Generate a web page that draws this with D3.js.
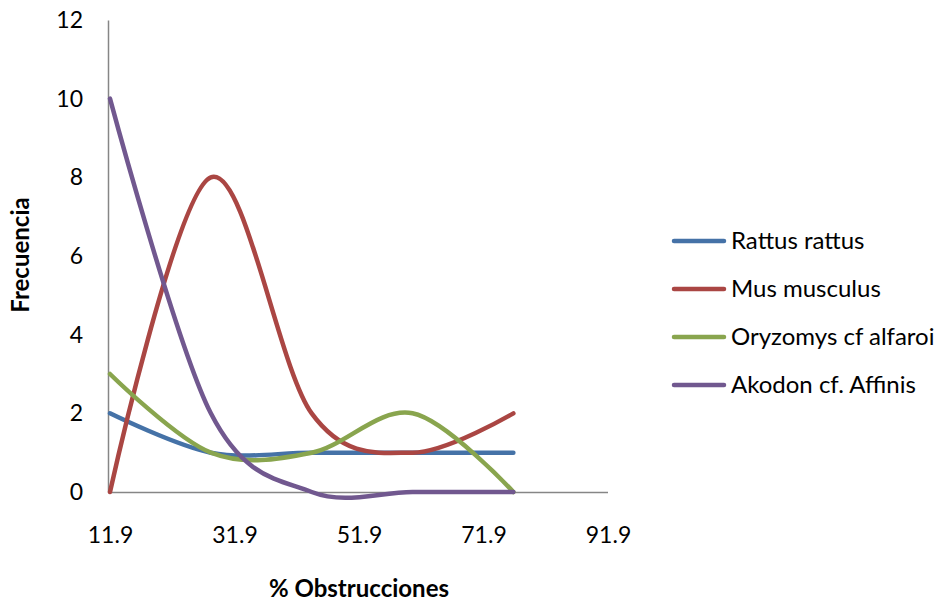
<!DOCTYPE html>
<html>
<head>
<meta charset="utf-8">
<script src="https://cdn.jsdelivr.net/npm/d3@7"></script>
<style>
  html, body { margin: 0; padding: 0; background: #fff; }
  svg text { font-family: Lato, "Open Sans", sans-serif; fill: #000; }
</style>
</head>
<body>
<svg id="chart" width="943" height="603"></svg>
<script>
// Class starts of % obstructions (bin width 16.2)
const binStarts = [11.9, 28.1, 44.3, 60.5, 76.7];
const seriesNames = ["Rattus rattus", "Mus musculus", "Oryzomys cf alfaroi", "Akodon cf. Affinis"];
const rattus = [2, 1, 1, 1, 1];
const mus = [0, 8, 2, 1, 2];
const oryzomys = [3, 1, 1, 2, 0];
const akodon = [10, 2, 0, 0, 0];
const colors = ["#4572A7", "#AA4643", "#89A54E", "#71588F"];
const xTicks = [11.9, 31.9, 51.9, 71.9, 91.9];
const yTicks = [0, 2, 4, 6, 8, 10, 12];

const allSeries = [rattus, mus, oryzomys, akodon];

const svg = d3.select("#chart");
const x = d3.scaleLinear().domain([11.9, 91.9]).range([110, 608]);
const y = d3.scaleLinear().domain([0, 12]).range([492, 20]);

// Axes: plain grey lines, no tick marks
const xAxis = d3.axisBottom(x).tickValues(xTicks).tickFormat(d3.format(".1f")).tickSize(0).tickPadding(35);
const yAxis = d3.axisLeft(y).tickValues(yTicks).tickFormat(d3.format("d")).tickSize(0).tickPadding(25);

const gx = svg.append("g").attr("transform", `translate(0,${y(0)})`).call(xAxis);
const gy = svg.append("g").attr("transform", `translate(${x(11.9) - 2},0)`).call(yAxis);
[gx, gy].forEach(g => {
  g.select(".domain").attr("stroke", "#868686").attr("stroke-width", 1.5);
  g.selectAll("text").attr("font-size", 23).attr("fill", "#000");
});
gx.select(".domain").attr("d", `M${x(11.9) - 2},0.5H${x(91.9)}`);

// Smoothed series lines
const line = d3.line()
  .x((d, i) => x(binStarts[i]))
  .y(d => y(d))
  .curve(d3.curveCardinal.tension(0));

svg.append("g").selectAll("path")
  .data(allSeries)
  .join("path")
  .attr("d", d => line(d))
  .attr("fill", "none")
  .attr("stroke", (d, i) => colors[i])
  .attr("stroke-width", 4.5)
  .attr("stroke-linecap", "round")
  .attr("stroke-linejoin", "round");

// Legend
const legend = svg.append("g");
const rowY = d3.scalePoint().domain(seriesNames).range([241, 385]);
seriesNames.forEach((name, i) => {
  legend.append("line")
    .attr("x1", 674).attr("x2", 724)
    .attr("y1", rowY(name)).attr("y2", rowY(name))
    .attr("stroke", colors[i]).attr("stroke-width", 4.5).attr("stroke-linecap", "round");
  legend.append("text")
    .attr("x", 731).attr("y", rowY(name))
    .attr("dy", "0.35em")
    .attr("font-size", 24)
    .text(name);
});

// Axis titles
svg.append("text")
  .attr("x", 359).attr("y", 597)
  .attr("text-anchor", "middle")
  .attr("font-size", 24).attr("font-weight", "bold")
  .text("% Obstrucciones");

svg.append("text")
  .attr("transform", "translate(29,255) rotate(-90)")
  .attr("text-anchor", "middle")
  .attr("font-size", 24).attr("font-weight", "bold")
  .text("Frecuencia");
</script>
</body>
</html>
